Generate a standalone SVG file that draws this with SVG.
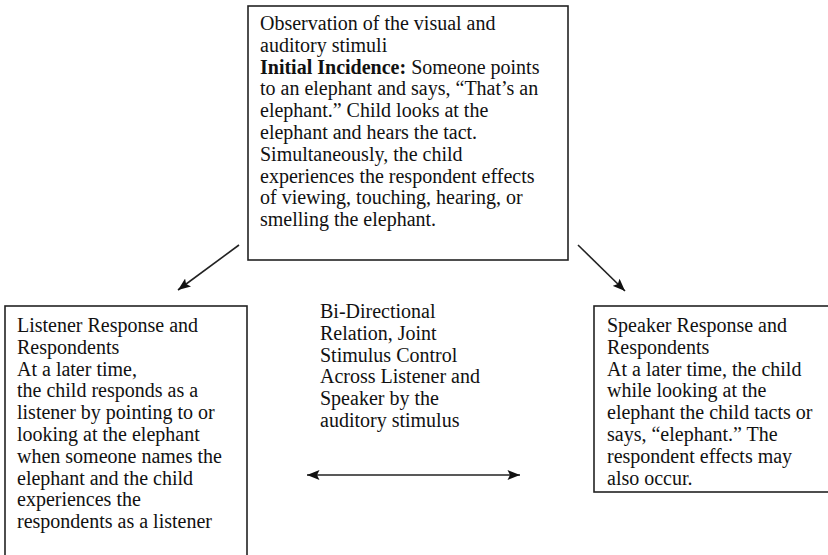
<svg xmlns="http://www.w3.org/2000/svg" width="828" height="555" viewBox="0 0 828 555">
<style>
.box{fill:#fff;stroke:#222;stroke-width:1.6}
.t{font-family:"Liberation Serif","Times New Roman",serif;font-size:20px;fill:#111}
.b{font-weight:bold}
.c{stroke:#222;stroke-width:1.6;fill:none}
</style>
<defs>
<marker id="ah" viewBox="0 0 10 8" refX="10" refY="4" markerWidth="13" markerHeight="10" markerUnits="userSpaceOnUse" orient="auto-start-reverse">
<path d="M0,0 L10,4 L0,8 L2,4 Z" fill="#111"/>
</marker>
</defs>
<rect width="828" height="555" fill="#fff"/>
<g id="top">
<rect class="box" x="248" y="6" width="320" height="254"/>
<text class="t">
<tspan x="260" y="30">Observation of the visual and</tspan>
<tspan x="260" y="51.8">auditory stimuli</tspan>
<tspan x="260" y="73.6"><tspan class="b">Initial Incidence:</tspan> Someone points</tspan>
<tspan x="260" y="95.4">to an elephant and says, “That’s an</tspan>
<tspan x="260" y="117.2">elephant.” Child looks at the</tspan>
<tspan x="260" y="139">elephant and hears the tact.</tspan>
<tspan x="260" y="160.8">Simultaneously, the child</tspan>
<tspan x="260" y="182.6">experiences the respondent effects</tspan>
<tspan x="260" y="204.4">of viewing, touching, hearing, or</tspan>
<tspan x="260" y="226.2">smelling the elephant.</tspan>
</text>
</g>
<g id="listener">
<rect class="box" x="5" y="306" width="242" height="270"/>
<text class="t">
<tspan x="17" y="332">Listener Response and</tspan>
<tspan x="17" y="353.8">Respondents</tspan>
<tspan x="17" y="375.6">At a later time,</tspan>
<tspan x="17" y="397.4">the child responds as a</tspan>
<tspan x="17" y="419.2">listener by pointing to or</tspan>
<tspan x="17" y="441">looking at the elephant</tspan>
<tspan x="17" y="462.8">when someone names the</tspan>
<tspan x="17" y="484.6">elephant and the child</tspan>
<tspan x="17" y="506.4">experiences the</tspan>
<tspan x="17" y="528.2">respondents as a listener</tspan>
</text>
</g>
<g id="speaker">
<rect class="box" x="594" y="306" width="250" height="186"/>
<text class="t">
<tspan x="607" y="332">Speaker Response and</tspan>
<tspan x="607" y="353.8">Respondents</tspan>
<tspan x="607" y="375.6">At a later time, the child</tspan>
<tspan x="607" y="397.4">while looking at the</tspan>
<tspan x="607" y="419.2">elephant the child tacts or</tspan>
<tspan x="607" y="441">says, “elephant.” The</tspan>
<tspan x="607" y="462.8">respondent effects may</tspan>
<tspan x="607" y="484.6">also occur.</tspan>
</text>
</g>
<g id="relation">
<text class="t">
<tspan x="320" y="318">Bi-Directional</tspan>
<tspan x="320" y="339.8">Relation, Joint</tspan>
<tspan x="320" y="361.6">Stimulus Control</tspan>
<tspan x="320" y="383.4">Across Listener and</tspan>
<tspan x="320" y="405.2">Speaker by the</tspan>
<tspan x="320" y="427">auditory stimulus</tspan>
</text>
</g>
<g id="connectors">
<line class="c" x1="239" y1="245" x2="178" y2="290" marker-end="url(#ah)"/>
<line class="c" x1="578" y1="245" x2="625" y2="291" marker-end="url(#ah)"/>
<line class="c" x1="307" y1="475" x2="520" y2="475" marker-start="url(#ah)" marker-end="url(#ah)"/>
</g>
</svg>
